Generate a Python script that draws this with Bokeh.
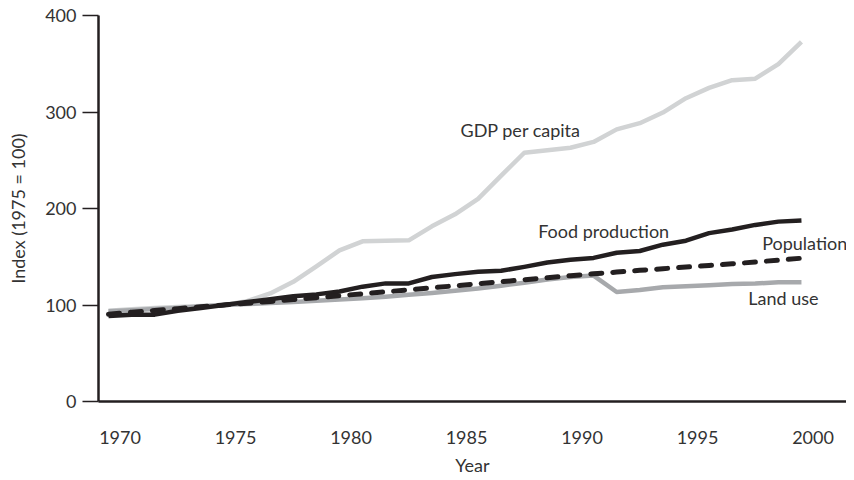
from bokeh.plotting import figure
from bokeh.models import Range1d, FixedTicker, CustomJSTickFormatter, Label
from bokeh.embed import file_html
from bokeh.resources import INLINE

years = list(range(1970, 2001))

gdp_per_capita = [94, 95.5, 97, 98, 99, 100, 104, 112, 124, 140,
                  156.6, 166, 166.6, 167, 181.5, 194, 210, 234, 257.8, 260.4,
                  263, 269, 282, 288.4, 299.4, 314.3, 325, 333, 334.5, 349.6,
                  372.6]
food_production = [88.5, 90, 90, 94, 97, 100, 103, 106, 109, 111,
                    114, 119, 122.4, 122.4, 129, 132, 134.4, 135.5, 139.5, 144,
                    147, 148.8, 154.2, 156, 162.5, 166.6, 174.5, 178.2, 183, 186.4,
                    187.5]
population = [90.5, 92.5, 94.3, 96.2, 98.1, 100, 101.8, 103.7, 105.6, 107.6,
              109.6, 111.6, 113.7, 115.7, 117.8, 119.9, 122.0, 124.1, 126.2, 128.3,
              130.4, 132.3, 134.1, 135.9, 137.6, 139.3, 141.0, 142.7, 144.5, 146.5,
              148.5]
land_use = [93.5, 94.5, 95.8, 97, 98.5, 100, 101, 102, 103.2, 104.4,
            105.6, 107, 108.6, 110.5, 112.5, 114.8, 117.2, 120, 123, 126.5,
            129, 130.5, 113.5, 115.5, 118.5, 119.5, 120.5, 121.8, 122.2, 123.5,
            123.5]

tick_years = [1970, 1975, 1980, 1985, 1990, 1995, 2000]
y_ticks = [0, 100, 200, 300, 400]

FONT = "Lato"
TXT = "#333333"
INK = "#231f20"

p = figure(width=846, height=478, output_backend="svg", toolbar_location=None,
           x_range=Range1d(1969.567, 2001.95), y_range=Range1d(0, 400),
           min_border_left=98, min_border_top=15, min_border_right=0,
           min_border_bottom=74)
p.outline_line_color = None
p.grid.visible = False
p.background_fill_color = "white"

p.line(years, gdp_per_capita, line_color="#d1d3d4", line_width=4.5, line_join="round")
p.line(years, land_use, line_color="#a7a9ac", line_width=4.5, line_join="round")
p.line(years, food_production, line_color=INK, line_width=4.5, line_join="round")
p.line(years, population, line_color=INK, line_width=5, line_dash="11 11",
       line_cap="round", line_join="round")

# x axis
xa = p.xaxis[0]
xa.ticker = FixedTicker(ticks=[y + 0.5 for y in tick_years])
xa.formatter = CustomJSTickFormatter(code="return String(Math.floor(tick));")
xa.major_tick_out = 0
xa.major_tick_in = 0
xa.minor_tick_out = 0
xa.minor_tick_in = 0
xa.major_label_standoff = 29
xa.axis_label = "Year"
xa.axis_label_standoff = 7
xa.axis_line_color = INK
xa.axis_line_width = 2.5

# y axis
ya = p.yaxis[0]
ya.ticker = FixedTicker(ticks=y_ticks)
ya.major_tick_out = 16
ya.major_tick_in = 0
ya.minor_tick_out = 0
ya.minor_tick_in = 0
ya.major_tick_line_color = INK
ya.major_tick_line_width = 1.5
ya.major_label_standoff = 6
ya.axis_label = "Index (1975 = 100)"
ya.axis_label_standoff = 13
ya.axis_line_color = INK
ya.axis_line_width = 2.5

for ax in (xa, ya):
    ax.major_label_text_font = FONT
    ax.major_label_text_font_size = "18px"
    ax.major_label_text_color = TXT
    ax.axis_label_text_font = FONT
    ax.axis_label_text_font_size = "18px"
    ax.axis_label_text_font_style = "normal"
    ax.axis_label_text_color = TXT

labels = [
    ("GDP per capita", 1985.24, 281.7),
    ("Food production", 1988.6, 176.9),
    ("Population", 1998.3, 164.5),
    ("Land use", 1997.7, 106.9),
]
for txt, lx, ly in labels:
    p.add_layout(Label(x=lx, y=ly, text=txt, text_font=FONT, text_font_size="18px",
                       text_color=TXT, text_baseline="middle", text_align="left"))

open("out.html", "w").write(file_html(p, INLINE))
